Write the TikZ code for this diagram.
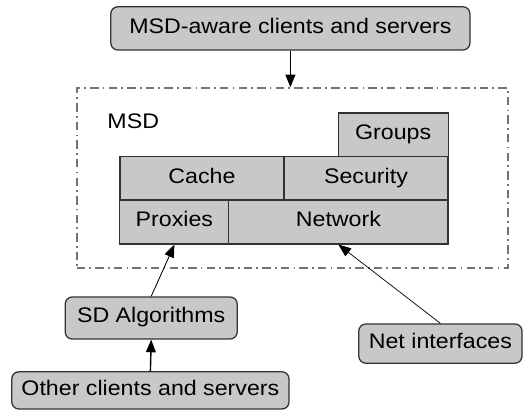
\documentclass[tikz,border=0pt]{standalone}
\usepackage{fontspec}
\setmainfont{Liberation Sans}[FakeStretch=1.1]
\usetikzlibrary{arrows.meta}
\definecolor{boxgray}{RGB}{200,200,200}
\definecolor{edgegray}{RGB}{50,50,50}
\tikzset{
  layer/.style={draw=edgegray, fill=boxgray, line width=0.9pt, inner sep=0pt, text height=1.6ex, text depth=.35ex, font=\fontsize{15}{17}\selectfont},
  client/.style={layer, rounded corners=5pt},
  msdframe/.style={draw=gray!90!black, line width=1pt, dash pattern=on 6pt off 3pt on 1.2pt off 3pt, minimum width=10.78cm, minimum height=4.5cm},
  link/.style={-{Triangle[length=9pt,width=7pt]}, black}
}
\begin{document}
\begin{tikzpicture}
  \useasboundingbox (0,0) rectangle (13.075,10.25);
  % clients on top
  \node[client, minimum width=8.98cm, minimum height=1.08cm] (top) at (7.26,9.54) {MSD-aware clients and servers};
  % the MSD frame
  \node[msdframe] (msd) at (7.31,5.8) {};
  \node[anchor=west, inner sep=0pt, font=\fontsize{15}{17}\selectfont] (msdlabel) at (2.68,7.22) {MSD};
  % stacked layers
  \node[layer, minimum width=2.75cm, minimum height=1.1cm] (groups) at (9.83,6.875) {Groups};
  \node[layer, minimum width=4.1cm, minimum height=1.08cm] (cache) at (5.05,5.79) {Cache};
  \node[layer, minimum width=4.1cm, minimum height=1.08cm] (security) at (9.15,5.79) {Security};
  \node[layer, minimum width=2.73cm, minimum height=1.1cm] (proxies) at (4.36,4.70) {Proxies};
  \node[layer, minimum width=5.48cm, minimum height=1.1cm] (network) at (8.46,4.70) {Network};
  % below the frame
  \node[client, minimum width=4.3cm, minimum height=1.05cm] (sdalg) at (3.78,2.30) {SD Algorithms};
  \node[client, minimum width=4.08cm, minimum height=0.98cm] (netif) at (11.01,1.66) {Net interfaces};
  \node[client, minimum width=6.93cm, minimum height=0.93cm] (other) at (3.76,0.49) {Other clients and servers};
  % arrows
  \draw[link, line width=1pt] (top.south) -- (top.south |- msd.north);
  \draw[link, line width=0.6pt] (sdalg.north) -- (proxies.south);
  \draw[link, line width=0.5pt] (netif.north) -- (network.south);
  \draw[link, line width=1pt] (other.north) -- (sdalg.south);
\end{tikzpicture}
\end{document}
